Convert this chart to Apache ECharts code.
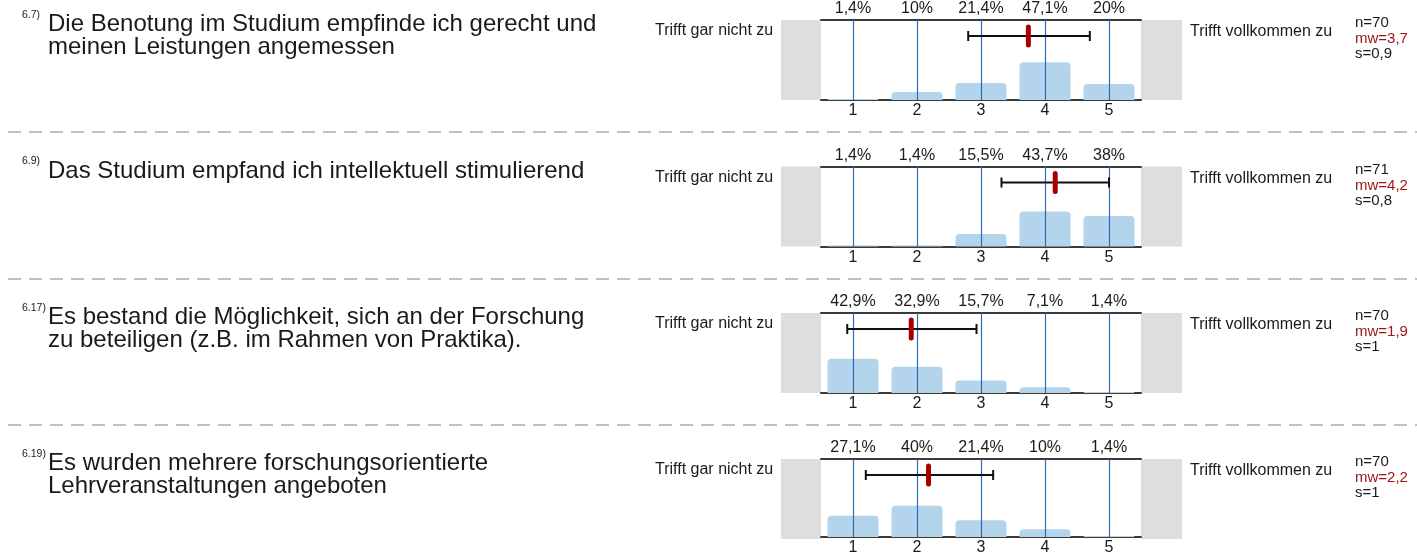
<!DOCTYPE html>
<html lang="de">
<head>
<meta charset="utf-8" />
<title>Studium - Bewertung</title>
<style>
  html, body { margin: 0; padding: 0; background: #fff; }
  #chart { width: 1417px; height: 556px; }
</style>
</head>
<body>
<div id="chart"></div>
<script src="https://cdn.jsdelivr.net/npm/echarts@6/dist/echarts.min.js"></script>
<script>
// Fragen
var qIds = ['6.7)', '6.9)', '6.17)', '6.19)'];
var qTexts = [
  'Die Benotung im Studium empfinde ich gerecht und\nmeinen Leistungen angemessen',
  'Das Studium empfand ich intellektuell stimulierend',
  'Es bestand die Möglichkeit, sich an der Forschung\nzu beteiligen (z.B. im Rahmen von Praktika).',
  'Es wurden mehrere forschungsorientierte\nLehrveranstaltungen angeboten'
];
var scaleLabels = ['1', '2', '3', '4', '5'];
var scaleValues = [1, 2, 3, 4, 5];
var leftPole = 'Trifft gar nicht zu';
var rightPole = 'Trifft vollkommen zu';

// Prozentverteilung je Antwortstufe (1..5)
var pct67 = [1.4, 10, 21.4, 47.1, 20];
var pct69 = [1.4, 1.4, 15.5, 43.7, 38];
var pct617 = [42.9, 32.9, 15.7, 7.1, 1.4];
var pct619 = [27.1, 40, 21.4, 10, 1.4];

// Kennwerte
var nVals = [70, 71, 70, 70];
var mwVals = [3.7, 4.2, 1.9, 2.2];
var sVals = [0.9, 0.8, 1, 1];

// Mittelwert-Marker und Streuungsbalken
var meanPos = [3.74, 4.16, 1.91, 2.18];
var errLow = [2.80, 3.32, 0.91, 1.20];
var errHigh = [4.70, 5.00, 2.93, 3.19];

var pcts = [pct67, pct69, pct617, pct619];

// layout
var FONT = '"Liberation Sans", Arial, sans-serif';
var PLOT_LEFT = 821, PLOT_W = 320, PLOT_H = 80;
var tops = [20, 166.5, 313, 459];

function de(v) { return String(v).replace('.', ','); }

var grids = [], xAxes = [], yAxes = [], series = [], graphics = [];

tops.forEach(function (t, g) {
  grids.push({ left: PLOT_LEFT, top: t, width: PLOT_W, height: PLOT_H });

  xAxes.push({ gridIndex: g, type: 'value', min: 0.5, max: 5.5, show: false });
  xAxes.push({
    gridIndex: g, type: 'category', position: 'bottom', data: scaleLabels,
    axisLine: { onZero: false, lineStyle: { color: '#3a3a3a', width: 2 } },
    axisTick: { show: false }, splitLine: { show: false },
    axisLabel: { fontSize: 16, color: '#1a1a1a', margin: 3, fontFamily: FONT }
  });
  xAxes.push({
    gridIndex: g, type: 'category', position: 'top',
    data: pcts[g].map(function (v) { return de(v) + '%'; }),
    axisLine: { onZero: false, lineStyle: { color: '#3a3a3a', width: 2 } },
    axisTick: { show: false }, splitLine: { show: false },
    axisLabel: { fontSize: 16, color: '#1a1a1a', margin: 3, fontFamily: FONT }
  });
  yAxes.push({ gridIndex: g, type: 'value', min: 0, max: 100, show: false });

  series.push({
    type: 'bar', xAxisIndex: g * 3, yAxisIndex: g,
    barWidth: 51, silent: true,
    itemStyle: { color: '#b4d4eb', borderRadius: [4, 4, 0, 0] },
    data: pcts[g].map(function (v, i) { return [scaleValues[i], v]; })
  });

  // blaue Linien an den Skalenstufen
  series.push({
    type: 'custom', xAxisIndex: g * 3, yAxisIndex: g, z: 5, silent: true,
    data: scaleValues,
    renderItem: function (params, api) {
      var cs = params.coordSys;
      var x = Math.round(api.coord([api.value(0), 0])[0]) + 0.5;
      return { type: 'line', shape: { x1: x, y1: cs.y, x2: x, y2: cs.y + cs.height },
        style: { stroke: '#2d6cb4', lineWidth: 1.2 } };
    }
  });

  series.push({
    type: 'custom', xAxisIndex: g * 3, yAxisIndex: g, z: 10, silent: true,
    data: [[errLow[g], errHigh[g], meanPos[g]]],
    renderItem: function (params, api) {
      var y = params.coordSys.y + 16;
      var x0 = api.coord([api.value(0), 0])[0];
      var x1 = api.coord([api.value(1), 0])[0];
      var xm = api.coord([api.value(2), 0])[0];
      var black = { stroke: '#111', lineWidth: 2 };
      return {
        type: 'group', children: [
          { type: 'line', shape: { x1: x0, y1: y, x2: x1, y2: y }, style: black },
          { type: 'line', shape: { x1: x0, y1: y - 5, x2: x0, y2: y + 5 }, style: black },
          { type: 'line', shape: { x1: x1, y1: y - 5, x2: x1, y2: y + 5 }, style: black },
          { type: 'line', shape: { x1: xm, y1: y - 9, x2: xm, y2: y + 9 },
            style: { stroke: '#a80000', lineWidth: 5, lineCap: 'round' } }
        ]
      };
    }
  });

  // graue Randfelder
  graphics.push({ type: 'rect', z: -1, shape: { x: 781, y: t, width: 40, height: PLOT_H }, style: { fill: '#dedede' } });
  graphics.push({ type: 'rect', z: -1, shape: { x: PLOT_LEFT + PLOT_W, y: t, width: 41, height: PLOT_H }, style: { fill: '#dedede' } });

  // Fragetext
  graphics.push({ type: 'text', x: 22, y: t - 5, style: { text: qIds[g], font: '10.5px ' + FONT, fill: '#1a1a1a', verticalAlign: 'middle' } });
  graphics.push({ type: 'text', x: 48, y: t - 7, style: { text: qTexts[g], font: '24px ' + FONT, lineHeight: 23, fill: '#1a1a1a', verticalAlign: 'top' } });

  graphics.push({ type: 'text', x: 655, y: t + 11, style: { text: leftPole, font: '16px ' + FONT, fill: '#1a1a1a', verticalAlign: 'middle' } });
  graphics.push({ type: 'text', x: 1190, y: t + 12, style: { text: rightPole, font: '16px ' + FONT, fill: '#1a1a1a', verticalAlign: 'middle' } });

  graphics.push({ type: 'text', x: 1355, y: t + 3, style: { text: 'n=' + nVals[g], font: '15px ' + FONT, fill: '#1a1a1a', verticalAlign: 'middle' } });
  graphics.push({ type: 'text', x: 1355, y: t + 19, style: { text: 'mw=' + de(mwVals[g]), font: '15px ' + FONT, fill: '#9b1414', verticalAlign: 'middle' } });
  graphics.push({ type: 'text', x: 1355, y: t + 34, style: { text: 's=' + de(sVals[g]), font: '15px ' + FONT, fill: '#1a1a1a', verticalAlign: 'middle' } });

  // Trennlinie
  if (g < tops.length - 1) {
    var sy = Math.round(t + 112);
    graphics.push({ type: 'line', z: -1, shape: { x1: 8, y1: sy, x2: 1417, y2: sy }, style: { stroke: '#c0c0c0', lineWidth: 2, lineDash: [13, 8] } });
  }
});

var chart = echarts.init(document.getElementById('chart'));
chart.setOption({
  animation: false,
  grid: grids,
  xAxis: xAxes,
  yAxis: yAxes,
  series: series,
  graphic: graphics
});
</script>
</body>
</html>
